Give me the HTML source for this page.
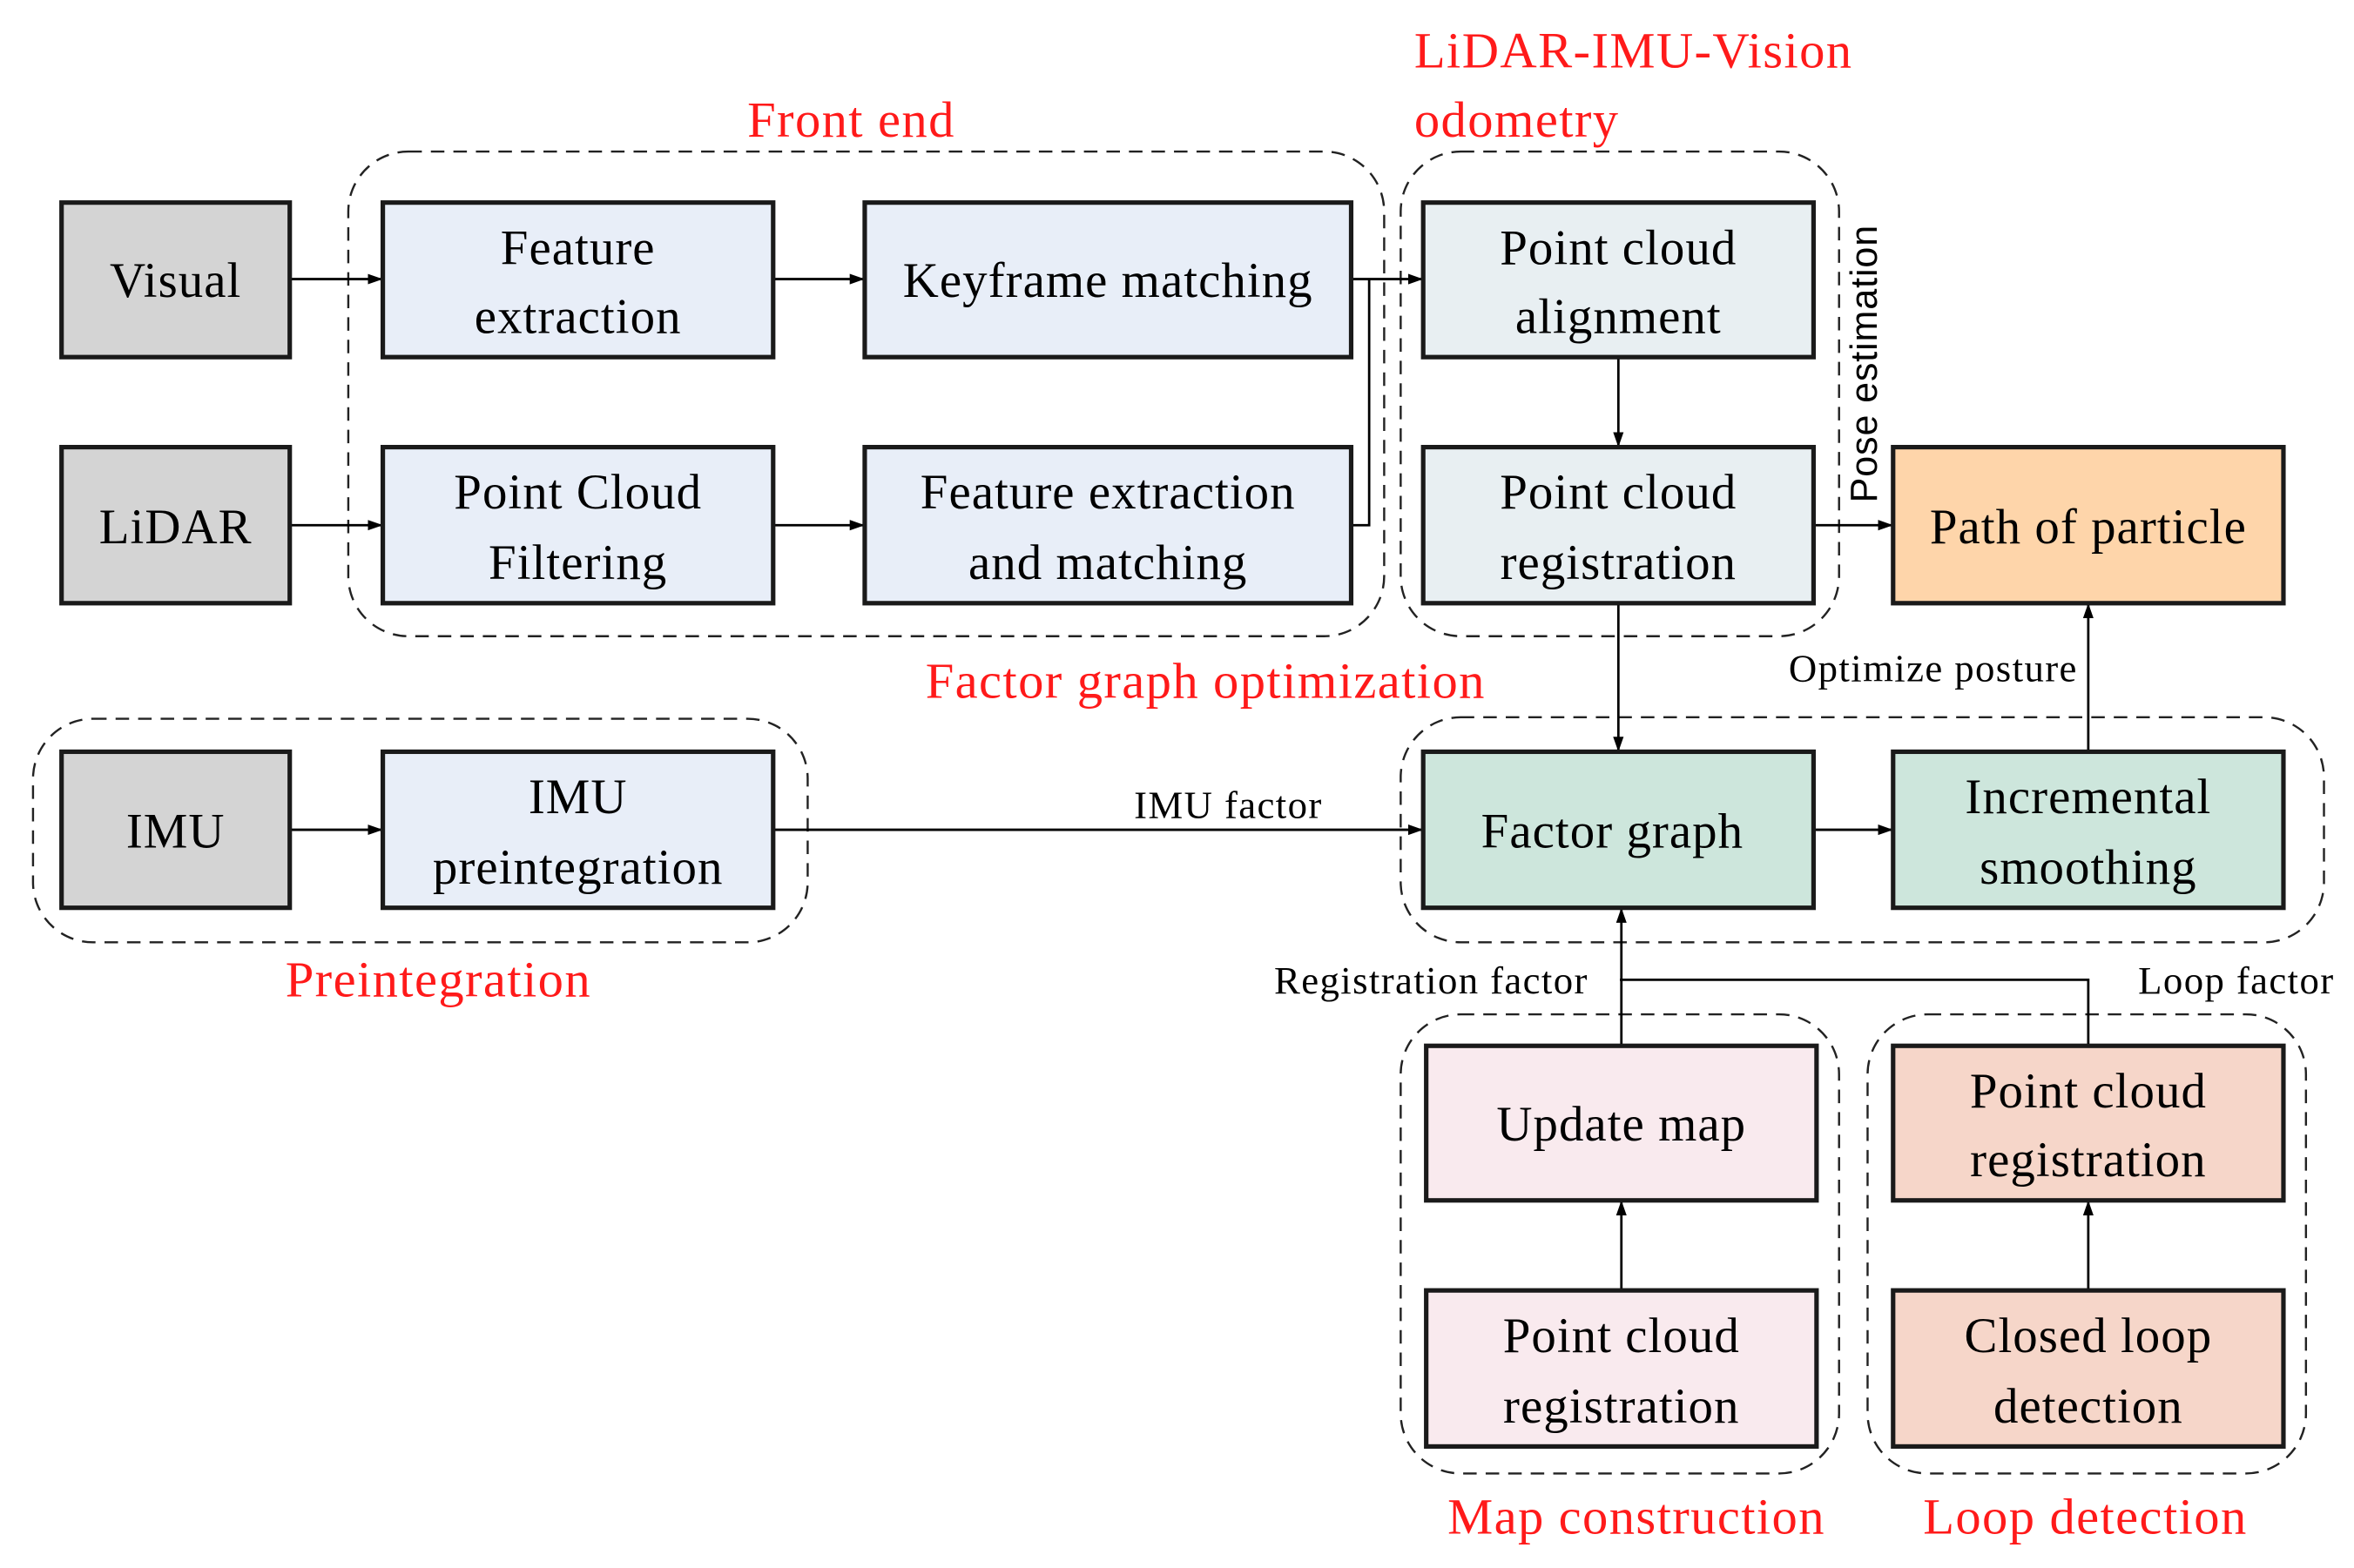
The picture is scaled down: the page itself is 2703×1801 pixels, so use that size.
<!DOCTYPE html>
<html><head><meta charset="utf-8"><style>
html,body{margin:0;padding:0;background:#fff}
svg{display:block}
text{font-family:"Liberation Serif",serif}
.b{stroke:#1a1a1a;stroke-width:3}
.t{font-size:33px;fill:#000;text-anchor:middle;letter-spacing:0.6px}
.r{font-size:34px;fill:#ff1a1a;letter-spacing:0.8px}
.s{font-size:26px;fill:#000;letter-spacing:0.8px}
.l{stroke:#000;stroke-width:1.6;fill:none}
.d{stroke:#222;stroke-width:1.4;fill:none;stroke-dasharray:9 6}
</style></head><body>
<svg width="2703" height="1801" viewBox="0 0 1568 1045" preserveAspectRatio="none" xmlns="http://www.w3.org/2000/svg">
<defs><marker id="a" viewBox="0 0 10 10" refX="10" refY="5" markerWidth="10" markerHeight="10" markerUnits="userSpaceOnUse" orient="auto"><path d="M0,1.5 L10,5 L0,8.5 z" fill="#000"/></marker></defs>
<rect class="d" x="232" y="101" width="690" height="323" rx="40"/>
<rect class="d" x="933" y="101" width="292" height="323" rx="40"/>
<rect class="d" x="22" y="479" width="516" height="149" rx="40"/>
<rect class="d" x="933" y="478" width="615" height="150" rx="40"/>
<rect class="d" x="933" y="676" width="292" height="306" rx="40"/>
<rect class="d" x="1244" y="676" width="292" height="306" rx="40"/>
<path class="l" d="M193,186 H255" marker-end="url(#a)"/>
<path class="l" d="M515,186 H576" marker-end="url(#a)"/>
<path class="l" d="M900,186 H948" marker-end="url(#a)"/>
<path class="l" d="M900,350 H912 V186"/>
<path class="l" d="M193,350 H255" marker-end="url(#a)"/>
<path class="l" d="M515,350 H576" marker-end="url(#a)"/>
<path class="l" d="M1078,238 V298" marker-end="url(#a)"/>
<path class="l" d="M1208,350 H1261" marker-end="url(#a)"/>
<path class="l" d="M1078,402 V501" marker-end="url(#a)"/>
<path class="l" d="M193,553 H255" marker-end="url(#a)"/>
<path class="l" d="M515,553 H948" marker-end="url(#a)"/>
<path class="l" d="M1208,553 H1261" marker-end="url(#a)"/>
<path class="l" d="M1391,501 V402" marker-end="url(#a)"/>
<path class="l" d="M1080,697 V605" marker-end="url(#a)"/>
<path class="l" d="M1391,697 V653 H1079"/>
<path class="l" d="M1080,860 V800" marker-end="url(#a)"/>
<path class="l" d="M1391,860 V800" marker-end="url(#a)"/>
<rect class="b" x="41" y="135" width="152" height="103" fill="#d4d4d4"/>
<rect class="b" x="41" y="298" width="152" height="104" fill="#d4d4d4"/>
<rect class="b" x="41" y="501" width="152" height="104" fill="#d4d4d4"/>
<rect class="b" x="255" y="135" width="260" height="103" fill="#e8eef8"/>
<rect class="b" x="576" y="135" width="324" height="103" fill="#e8eef8"/>
<rect class="b" x="255" y="298" width="260" height="104" fill="#e8eef8"/>
<rect class="b" x="576" y="298" width="324" height="104" fill="#e8eef8"/>
<rect class="b" x="255" y="501" width="260" height="104" fill="#e8eef8"/>
<rect class="b" x="948" y="135" width="260" height="103" fill="#e8eff2"/>
<rect class="b" x="948" y="298" width="260" height="104" fill="#e8eff2"/>
<rect class="b" x="1261" y="298" width="260" height="104" fill="#fed5aa"/>
<rect class="b" x="948" y="501" width="260" height="104" fill="#cde6dc"/>
<rect class="b" x="1261" y="501" width="260" height="104" fill="#cde6dc"/>
<rect class="b" x="950" y="697" width="260" height="103" fill="#f9eaee"/>
<rect class="b" x="950" y="860" width="260" height="104" fill="#f9eaee"/>
<rect class="b" x="1261" y="697" width="260" height="103" fill="#f6d6c9"/>
<rect class="b" x="1261" y="860" width="260" height="104" fill="#f6d6c9"/>
<text class="t" x="117" y="198">Visual</text>
<text class="t" x="117" y="362">LiDAR</text>
<text class="t" x="117" y="565">IMU</text>
<text class="t" x="385" y="176">Feature</text><text class="t" x="385" y="222">extraction</text>
<text class="t" x="738" y="198">Keyframe matching</text>
<text class="t" x="385" y="339">Point Cloud</text><text class="t" x="385" y="386">Filtering</text>
<text class="t" x="738" y="339">Feature extraction</text><text class="t" x="738" y="386">and matching</text>
<text class="t" x="385" y="542">IMU</text><text class="t" x="385" y="589">preintegration</text>
<text class="t" x="1078" y="176">Point cloud</text><text class="t" x="1078" y="222">alignment</text>
<text class="t" x="1078" y="339">Point cloud</text><text class="t" x="1078" y="386">registration</text>
<text class="t" x="1391" y="362">Path of particle</text>
<text class="t" x="1074" y="565">Factor graph</text>
<text class="t" x="1391" y="542">Incremental</text><text class="t" x="1391" y="589">smoothing</text>
<text class="t" x="1080" y="760">Update map</text>
<text class="t" x="1080" y="901">Point cloud</text><text class="t" x="1080" y="948">registration</text>
<text class="t" x="1391" y="738">Point cloud</text><text class="t" x="1391" y="784">registration</text>
<text class="t" x="1391" y="901">Closed loop</text><text class="t" x="1391" y="948">detection</text>
<text class="r" x="567" y="91" text-anchor="middle">Front end</text>
<text class="r" x="942" y="45">LiDAR-IMU-Vision</text>
<text class="r" x="942" y="91">odometry</text>
<text class="r" x="803" y="465" text-anchor="middle">Factor graph optimization</text>
<text class="r" x="292" y="664" text-anchor="middle">Preintegration</text>
<text class="r" x="1090" y="1022" text-anchor="middle">Map construction</text>
<text class="r" x="1389" y="1022" text-anchor="middle">Loop detection</text>
<text class="s" x="881" y="545" text-anchor="end">IMU factor</text>
<text class="s" x="1384" y="454" text-anchor="end">Optimize posture</text>
<text class="s" x="1058" y="662" text-anchor="end">Registration factor</text>
<text class="s" x="1555" y="662" text-anchor="end">Loop factor</text>
<text x="1250" y="335" transform="rotate(-90 1250 335)" style="font-family:'Liberation Sans',sans-serif;font-size:25px;letter-spacing:0.5px">Pose estimation</text>
</svg>
</body></html>
